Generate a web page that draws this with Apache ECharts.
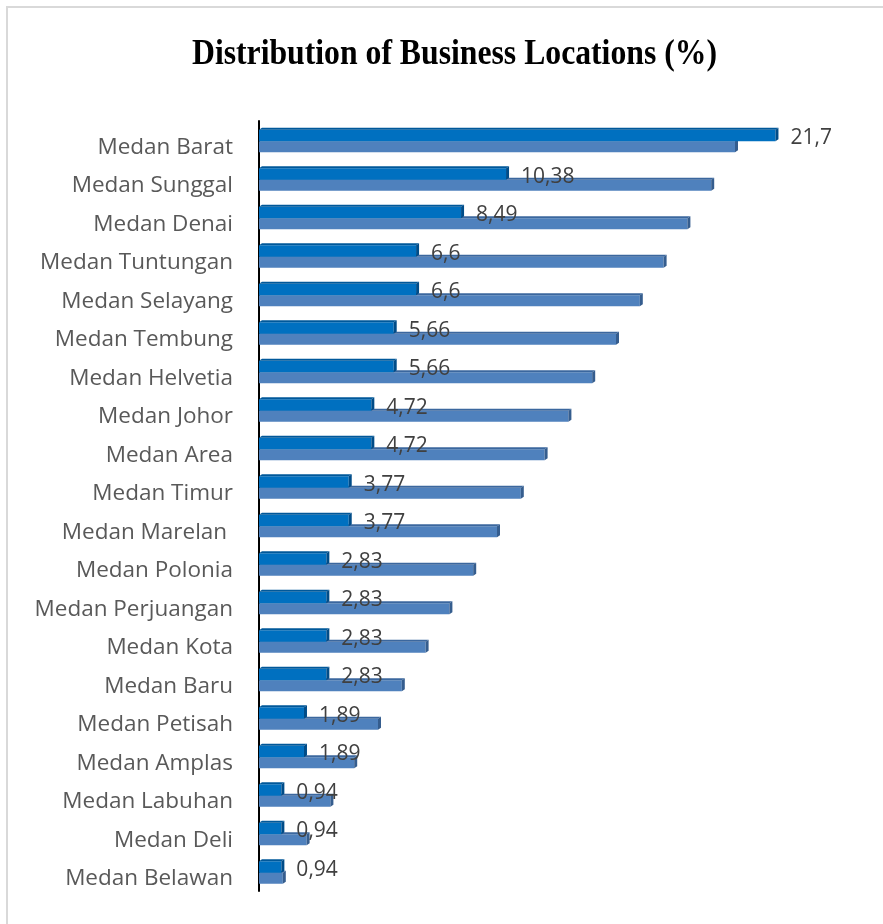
<!DOCTYPE html>
<html>
<head>
<meta charset="utf-8">
<script src="https://cdn.jsdelivr.net/npm/echarts@6/dist/echarts.min.js"></script>
<style>
  html, body { margin: 0; padding: 0; background: #fff; }
  #chart { width: 883px; height: 924px; }
</style>
</head>
<body>
<div id="chart"></div>
<script>
// 分区名称（从上到下）
const districts = [
  'Medan Barat', 'Medan Sunggal', 'Medan Denai', 'Medan Tuntungan', 'Medan Selayang',
  'Medan Tembung', 'Medan Helvetia', 'Medan Johor', 'Medan Area', 'Medan Timur',
  'Medan Marelan ', 'Medan Polonia', 'Medan Perjuangan', 'Medan Kota', 'Medan Baru',
  'Medan Petisah', 'Medan Amplas', 'Medan Labuhan', 'Medan Deli', 'Medan Belawan'
]
// 占比（%）
const shares = [21.7, 10.38, 8.49, 6.6, 6.6, 5.66, 5.66, 4.72, 4.72, 3.77,
  3.77, 2.83, 2.83, 2.83, 2.83, 1.89, 1.89, 0.94, 0.94, 0.94]
// 第二组（浅色）条形
const secondary = [20, 19, 18, 17, 16, 15, 14, 13, 12, 11,
  10, 9, 8, 7, 6, 5, 4, 3, 2, 1]

const DEPTH = 3 // 3D 侧面偏移
const FACE = 2

// 画一根带顶面和端面的伪 3D 条
function bar3d(colors, top, bottom, withLabel) {
  return function (params, api) {
    const v = api.value(0)
    const i = api.value(1)
    const p0 = api.coord([0, i])
    const p1 = api.coord([v, i])
    const x0 = p0[0]
    const x1 = p1[0]
    const yc = p0[1]
    const yT = yc + top
    const yB = yc + bottom
    const children = [
      {
        type: 'rect',
        shape: { x: x0, y: yT + FACE, width: x1 - x0, height: yB - yT - FACE },
        style: { fill: colors.front },
      },
      {
        type: 'polygon',
        shape: { points: [[x0, yT + FACE], [x0 + DEPTH, yT], [x1 + DEPTH, yT], [x1, yT + FACE]] },
        style: { fill: colors.top },
      },
      {
        type: 'polygon',
        shape: { points: [[x1, yT + FACE], [x1 + DEPTH, yT], [x1 + DEPTH, yB - FACE], [x1, yB]] },
        style: { fill: colors.side },
      },
    ]
    if (withLabel) {
      children.push({
        type: 'text',
        x: x1 + 15,
        y: yc - 2,
        style: {
          text: String(v).replace('.', ','),
          fill: '#404040',
          font: '21px "Open Sans"',
          textAlign: 'left',
          textVerticalAlign: 'middle',
        },
      })
    }
    return { type: 'group', children }
  }
}

const chart = echarts.init(document.getElementById('chart'))

const option = {
  animation: false,
  backgroundColor: '#fff',
  graphic: [
    {
      type: 'rect',
      silent: true,
      shape: { x: 7, y: 7, width: 920, height: 960 },
      style: { fill: null, stroke: '#D9D9D9', lineWidth: 2 },
    },
    {
      type: 'text',
      x: 454.5,
      y: 55,
      scaleX: 0.906,
      style: {
        text: 'Distribution of Business Locations (%)',
        fill: '#000',
        font: 'bold 35px "Liberation Serif"',
        textAlign: 'center',
        textVerticalAlign: 'middle',
      },
    },
  ],
  grid: {
    left: 259,
    right: 29,
    top: 121,
    bottom: 33,
    containLabel: false,
  },
  xAxis: {
    type: 'value',
    min: 0,
    max: 25,
    show: false,
  },
  yAxis: {
    type: 'category',
    inverse: true,
    data: districts,
    axisLine: { lineStyle: { color: '#000', width: 2 } },
    axisTick: { show: false },
    splitLine: { show: false },
    axisLabel: {
      margin: 26,
      color: '#595959',
      fontFamily: 'Open Sans',
      fontSize: 22.5,
      verticalAlign: 'top',
      lineHeight: 14,
    },
  },
  series: [
    {
      type: 'custom',
      name: 'secondary',
      renderItem: bar3d({ front: '#4F81BD', top: '#3B679E', side: '#355D8E' }, -1, 12, false),
      encode: { x: 0, y: 1 },
      data: secondary.map((v, i) => [v, i]),
      z: 2,
    },
    {
      type: 'custom',
      name: 'share',
      renderItem: bar3d({ front: '#0070C0', top: '#00589A', side: '#004C88' }, -12.5, 1, true),
      encode: { x: 0, y: 1 },
      data: shares.map((v, i) => [v, i]),
      z: 3,
    },
  ],
}

chart.setOption(option)
</script>
</body>
</html>
